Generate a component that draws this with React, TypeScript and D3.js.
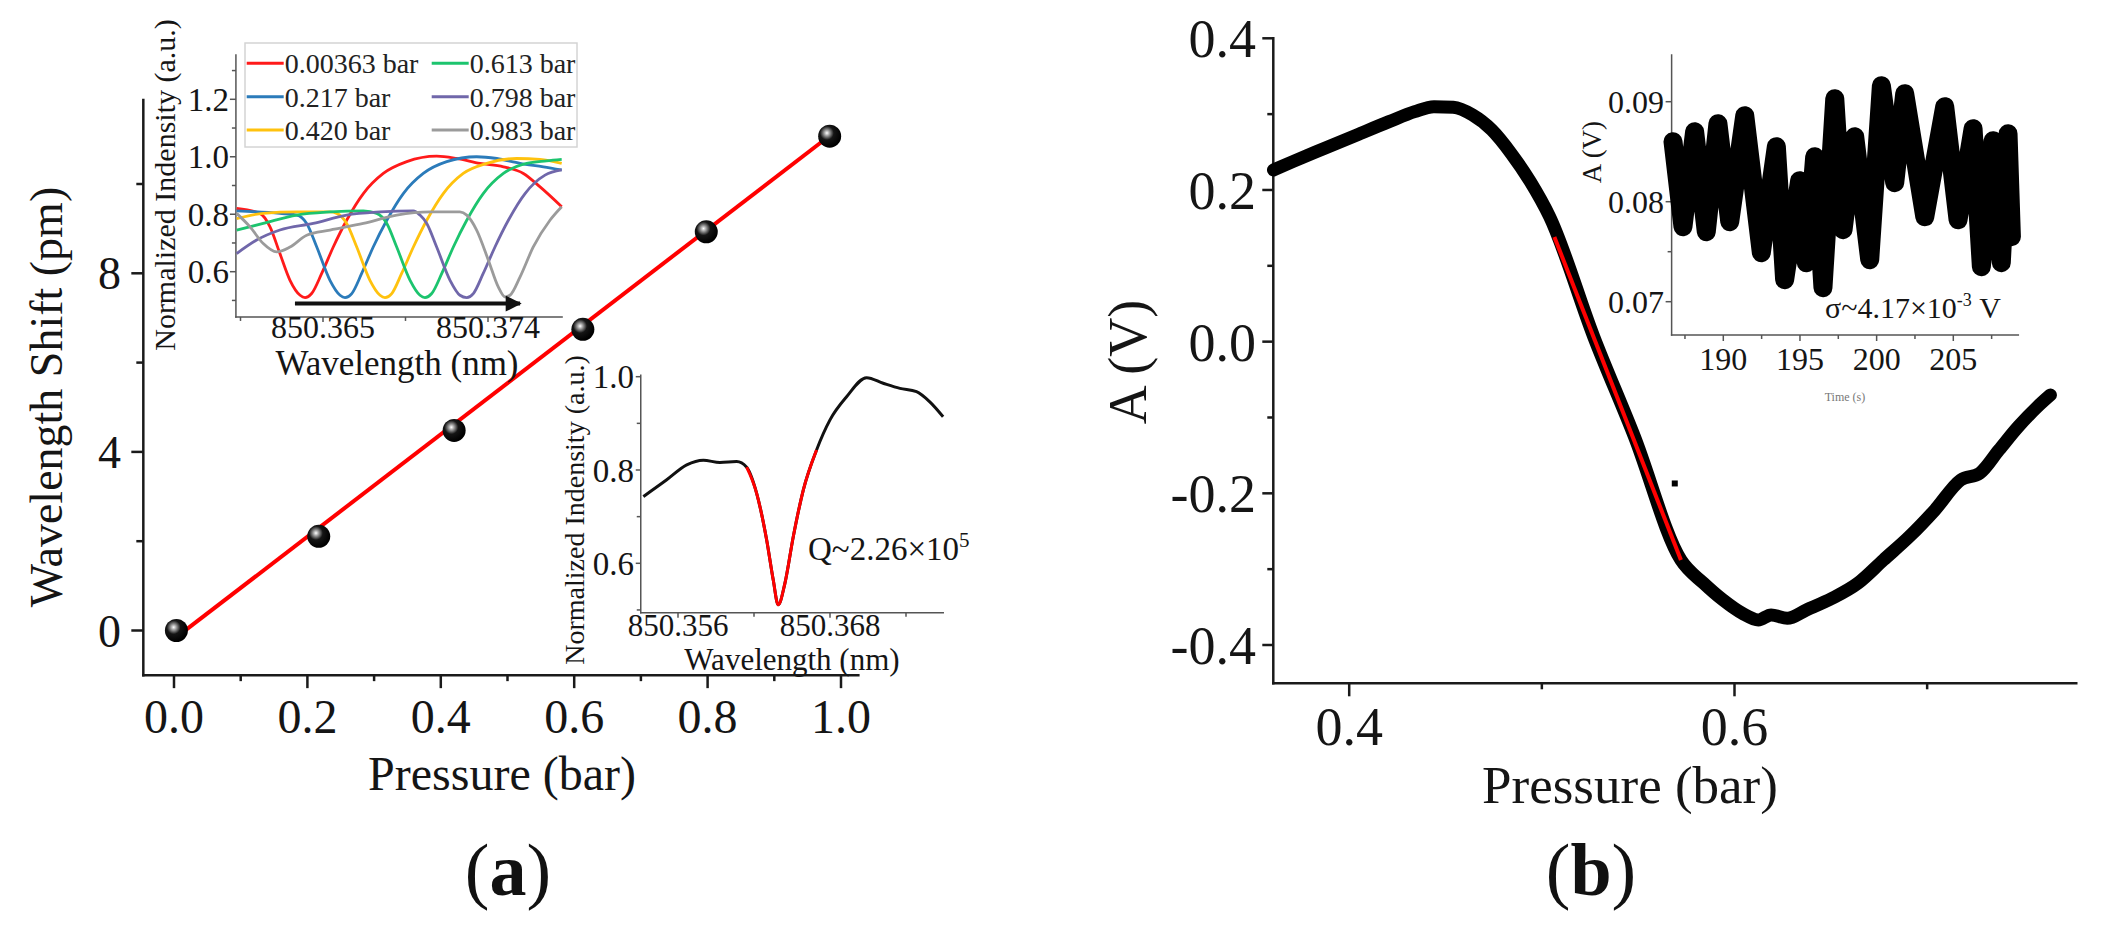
import React from "react";
import * as d3 from "d3";

const FONT = "'Liberation Serif','Times New Roman',Times,serif";

// ---------------- Panel (a) main: wavelength shift vs pressure ----------------
const pressureBar = [0.00363, 0.217, 0.42, 0.613, 0.798, 0.983];
const wavelengthShiftPm = [0.0, 2.11, 4.48, 6.745, 8.93, 11.07];
const fitPressure = [0.00363, 0.983];
const fitShift = [-0.15, 11.08];
const aXTicks = [0, 0.2, 0.4, 0.6, 0.8, 1.0];
const aXTickLabels = ["0.0", "0.2", "0.4", "0.6", "0.8", "1.0"];
const aXMinor = [0.1, 0.3, 0.5, 0.7, 0.9];
const aYTicks = [0, 4, 8];
const aYTickLabels = ["0", "4", "8"];
const aYMinor = [2, 6, 10];

// ---------------- Panel (a) inset 1: spectra at several pressures ----------------
const legendLabels = ["0.00363 bar", "0.217 bar", "0.420 bar", "0.613 bar", "0.798 bar", "0.983 bar"];
const seriesColors = ["#ff1a1a", "#2b7bba", "#ffc20e", "#1cc46e", "#7067aa", "#9b9b9b"];
const spec000363 = [
  [850.36029, 0.82], [850.36156, 0.803], [850.36211, 0.756], [850.36265, 0.663], [850.3632, 0.57],
  [850.36375, 0.518], [850.36402, 0.51], [850.36438, 0.524], [850.36493, 0.594], [850.36556, 0.686],
  [850.36629, 0.779], [850.3672, 0.872], [850.36829, 0.942], [850.36957, 0.983], [850.3712, 1.002],
  [850.37229, 0.994], [850.37356, 0.977], [850.37484, 0.965], [850.37593, 0.942], [850.37684, 0.895],
  [850.37802, 0.826],
];
const spec0217 = [
  [850.36029, 0.812], [850.36265, 0.803], [850.36357, 0.797], [850.36411, 0.768], [850.36466, 0.686],
  [850.36538, 0.57], [850.36593, 0.518], [850.3662, 0.51], [850.36657, 0.524], [850.36711, 0.594],
  [850.36774, 0.686], [850.36848, 0.779], [850.36938, 0.872], [850.37047, 0.942], [850.37175, 0.983],
  [850.37338, 1.0], [850.37448, 0.994], [850.37575, 0.977], [850.37702, 0.965], [850.37802, 0.954],
];
const spec0420 = [
  [850.36029, 0.785], [850.36174, 0.803], [850.36357, 0.808], [850.36538, 0.808], [850.36575, 0.803],
  [850.36629, 0.768], [850.36684, 0.686], [850.36756, 0.57], [850.36811, 0.518], [850.36838, 0.51],
  [850.36875, 0.524], [850.36929, 0.594], [850.36993, 0.686], [850.37066, 0.779], [850.37156, 0.872],
  [850.37265, 0.942], [850.37393, 0.977], [850.37557, 0.994], [850.37684, 0.991], [850.37802, 0.977],
];
const spec0613 = [
  [850.36029, 0.745], [850.36174, 0.768], [850.36357, 0.797], [850.36538, 0.808], [850.3672, 0.812],
  [850.36793, 0.803], [850.36848, 0.768], [850.36902, 0.686], [850.36975, 0.57], [850.37029, 0.518],
  [850.37056, 0.51], [850.37093, 0.524], [850.37148, 0.594], [850.37211, 0.686], [850.37284, 0.779],
  [850.37374, 0.872], [850.37484, 0.942], [850.37611, 0.977], [850.3772, 0.986], [850.37802, 0.991],
];
const spec0798 = [
  [850.36029, 0.663], [850.36138, 0.71], [850.36265, 0.745], [850.36447, 0.768], [850.36629, 0.797],
  [850.36811, 0.808], [850.36993, 0.812], [850.37029, 0.797], [850.37066, 0.768], [850.3712, 0.686],
  [850.37193, 0.57], [850.37247, 0.518], [850.37284, 0.51], [850.3732, 0.524], [850.37374, 0.594],
  [850.37438, 0.686], [850.37511, 0.779], [850.37602, 0.872], [850.37711, 0.936], [850.37802, 0.954],
];
const spec0983 = [
  [850.36029, 0.803], [850.36102, 0.756], [850.36174, 0.698], [850.36247, 0.669], [850.3632, 0.686],
  [850.36411, 0.727], [850.36538, 0.745], [850.3672, 0.768], [850.36902, 0.797], [850.37084, 0.808],
  [850.37247, 0.808], [850.37284, 0.797], [850.37338, 0.745], [850.37402, 0.64], [850.37456, 0.547],
  [850.37493, 0.512], [850.3752, 0.518], [850.37575, 0.582], [850.37647, 0.686], [850.37738, 0.779],
  [850.37802, 0.826],
];
const inset1Series = [spec000363, spec0217, spec0420, spec0613, spec0798, spec0983];
const shiftArrow = [[850.36347, 0.489], [850.37575, 0.489]];
const i1XTicks = [850.365, 850.374];
const i1XTickLabels = ["850.365", "850.374"];
const i1XMinor = [850.3605, 850.3695];
const i1YTicks = [0.6, 0.8, 1.0, 1.2];
const i1YTickLabels = ["0.6", "0.8", "1.0", "1.2"];
const i1YMinor = [0.5, 0.7, 0.9, 1.1, 1.3];

// ---------------- Panel (a) inset 2: single resonance with Lorentz fit ----------------
const resonance = [
  [850.35326, 0.743], [850.35511, 0.779], [850.35669, 0.811], [850.358, 0.821], [850.35931, 0.816],
  [850.36063, 0.818], [850.36142, 0.806], [850.36221, 0.75], [850.363, 0.65], [850.36352, 0.564],
  [850.36391, 0.511], [850.36444, 0.557], [850.3651, 0.657], [850.36589, 0.757], [850.36694, 0.843],
  [850.36799, 0.907], [850.36931, 0.957], [850.37089, 0.998], [850.3722, 0.986], [850.37352, 0.975],
  [850.37483, 0.968], [850.37588, 0.946], [850.37693, 0.914],
];
const resonanceFit = [
  [850.36142, 0.806], [850.36221, 0.75], [850.363, 0.65], [850.36352, 0.564], [850.36391, 0.511],
  [850.36444, 0.557], [850.3651, 0.657], [850.36589, 0.757], [850.36694, 0.843],
];
const i2XTicks = [850.356, 850.368];
const i2XTickLabels = ["850.356", "850.368"];
const i2XMinor = [850.362, 850.374];
const i2YTicks = [0.6, 0.8, 1.0];
const i2YTickLabels = ["0.6", "0.8", "1.0"];
const i2YMinor = [0.5, 0.7, 0.9];

// ---------------- Panel (b): amplitude vs pressure ----------------
const bPressure = [
  0.3607, 0.3707, 0.3873, 0.404, 0.4207, 0.434, 0.444, 0.454, 0.464, 0.474, 0.484, 0.494, 0.504,
  0.527, 0.548, 0.5722, 0.584, 0.594, 0.604, 0.6124, 0.619, 0.6274, 0.6373, 0.6507, 0.664, 0.6773,
  0.6907, 0.704, 0.7174, 0.7273, 0.7373, 0.7473, 0.7573, 0.764,
];
const bAmplitude = [
  0.2264, 0.2374, 0.255, 0.2726, 0.2901, 0.3033, 0.3099, 0.3091, 0.299, 0.2792, 0.2484, 0.211, 0.165,
  0.006, -0.125, -0.288, -0.3186, -0.3406, -0.3582, -0.367, -0.3604, -0.3648, -0.3538, -0.3384,
  -0.3186, -0.2879, -0.2572, -0.222, -0.1824, -0.1735, -0.1428, -0.1121, -0.0857, -0.0703,
];
const bFitPressure = [0.5065, 0.5722];
const bFitAmplitude = [0.138, -0.288];
const bOutlier = [0.569, -0.187];
const bXTicks = [0.4, 0.6];
const bXTickLabels = ["0.4", "0.6"];
const bXMinor = [0.5, 0.7];
const bYTicks = [-0.4, -0.2, 0.0, 0.2, 0.4];
const bYTickLabels = ["-0.4", "-0.2", "0.0", "0.2", "0.4"];
const bYMinor = [-0.3, -0.1, 0.1, 0.3];

// ---------------- Panel (b) inset: noise over time (alternating crests / troughs) ----------------
const noiseTime = [
  186.72, 187.37, 188.13, 188.89, 189.65, 190.42, 191.4, 192.48, 193.46, 194.0, 194.98, 195.41,
  195.96, 196.5, 197.27, 197.81, 198.57, 199.55, 200.31, 201.18, 201.83, 203.14, 204.44, 205.31,
  206.29, 206.83, 207.59, 208.13, 208.57, 208.79,
];
const noiseAmplitude = [
  0.086, 0.0775, 0.087, 0.077, 0.0878, 0.078, 0.0886, 0.0749, 0.0855, 0.0722, 0.0821, 0.0739,
  0.0845, 0.0714, 0.0903, 0.0772, 0.0865, 0.0742, 0.0916, 0.0819, 0.0908, 0.0785, 0.0895, 0.0782,
  0.0873, 0.0735, 0.0861, 0.0739, 0.0868, 0.0765,
];
const ibXTicks = [190, 195, 200, 205];
const ibXTickLabels = ["190", "195", "200", "205"];
const ibXMinor = [187.5, 192.5, 197.5, 202.5, 207.5];
const ibYTicks = [0.07, 0.08, 0.09];
const ibYTickLabels = ["0.07", "0.08", "0.09"];
const ibYMinor = [0.075, 0.085];

type S = d3.ScaleLinear<number, number>;

function XAxis(p: {
  s: S; y: number; ext: number[]; major: number[]; minor: number[]; labels?: string[];
  majLen: number; minLen: number; fs?: number; base?: number; color: string; sw: number;
}) {
  const { s, y, ext, major, minor, labels, majLen, minLen, fs, base, color, sw } = p;
  return (
    <g>
      <line x1={s(ext[0])} x2={s(ext[1])} y1={y} y2={y} stroke={color} strokeWidth={sw} strokeLinecap="square" />
      {major.map((v, i) => (
        <line key={"M" + i} x1={s(v)} x2={s(v)} y1={y} y2={y + majLen} stroke={color} strokeWidth={sw} />
      ))}
      {minor.map((v, i) => (
        <line key={"m" + i} x1={s(v)} x2={s(v)} y1={y} y2={y + minLen} stroke={color} strokeWidth={sw} />
      ))}
      {labels &&
        major.map((v, i) => (
          <text key={"t" + i} x={s(v)} y={base} textAnchor="middle" fontSize={fs} fontFamily={FONT} fill="#151515">
            {labels[i]}
          </text>
        ))}
    </g>
  );
}

function YAxis(p: {
  s: S; x: number; ext: number[]; major: number[]; minor: number[]; labels?: string[];
  majLen: number; minLen: number; fs?: number; lx?: number; color: string; sw: number;
}) {
  const { s, x, ext, major, minor, labels, majLen, minLen, fs, lx, color, sw } = p;
  return (
    <g>
      <line x1={x} x2={x} y1={s(ext[0])} y2={s(ext[1])} stroke={color} strokeWidth={sw} strokeLinecap="square" />
      {major.map((v, i) => (
        <line key={"M" + i} x1={x - majLen} x2={x} y1={s(v)} y2={s(v)} stroke={color} strokeWidth={sw} />
      ))}
      {minor.map((v, i) => (
        <line key={"m" + i} x1={x - minLen} x2={x} y1={s(v)} y2={s(v)} stroke={color} strokeWidth={sw} />
      ))}
      {labels &&
        major.map((v, i) => (
          <text key={"t" + i} x={lx} y={s(v) + 0.35 * (fs || 0)} textAnchor="end" fontSize={fs} fontFamily={FONT} fill="#151515">
            {labels[i]}
          </text>
        ))}
    </g>
  );
}

export default function App() {
  // scales
  const xA = d3.scaleLinear().domain([0, 1]).range([174, 841]);
  const yA = d3.scaleLinear().domain([0, 8]).range([630.5, 273.3]);
  const xI1 = d3.scaleLinear().domain([850.365, 850.374]).range([323, 488]);
  const yI1 = d3.scaleLinear().domain([0.6, 1.2]).range([271.7, 99.3]);
  const xI2 = d3.scaleLinear().domain([850.356, 850.368]).range([678, 830]);
  const yI2 = d3.scaleLinear().domain([0.6, 0.8]).range([563.3, 470]);
  const xB = d3.scaleLinear().domain([0.4, 0.6]).range([1349.2, 1734.5]);
  const yB = d3.scaleLinear().domain([-0.4, 0.4]).range([645, 38.3]);
  const xIb = d3.scaleLinear().domain([190, 205]).range([1723.3, 1953.3]);
  const yIb = d3.scaleLinear().domain([0.07, 0.09]).range([301.7, 101.7]);

  const gen = (xs: S, ys: S, curve: d3.CurveFactory = d3.curveMonotoneX) =>
    d3.line<number[]>().x((d) => xs(d[0])).y((d) => ys(d[1])).curve(curve);

  const fitA = fitPressure.map((p, i) => [p, fitShift[i]]);
  const bData = bPressure.map((p, i) => [p, bAmplitude[i]]);
  const bFit = bFitPressure.map((p, i) => [p, bFitAmplitude[i]]);
  const noise = noiseTime.map((t, i) => [t, noiseAmplitude[i]]);

  const mainColor = "#1a1a1a";
  const insetColor = "#555";

  // legend layout
  const legendRowY = [63.3, 96.7, 130];
  const legendColX = [246.7, 431.7];

  return (
    <div style={{ position: "absolute", left: 0, top: 0 }}>
      <svg width={2107} height={934} viewBox="0 0 2107 934" style={{ display: "block", background: "#fff" }}>
        <defs>
          <radialGradient id="ball" cx="0.38" cy="0.36" r="0.62">
            <stop offset="0" stopColor="#ffffff" />
            <stop offset="0.2" stopColor="#9a9a9a" />
            <stop offset="0.48" stopColor="#151515" />
            <stop offset="1" stopColor="#000" />
          </radialGradient>
          <marker id="arrowHead" viewBox="0 0 10 10" refX="9" refY="5" markerWidth="5" markerHeight="4" orient="auto" markerUnits="strokeWidth">
            <path d="M0,0 L10,5 L0,10 z" fill="#111" />
          </marker>
        </defs>
        <rect x={0} y={0} width={2107} height={934} fill="#fff" />

        {/* ================= Panel (a) main ================= */}
        <XAxis s={xA} y={yA(-1.0)} ext={[-0.046, 1.026]} major={aXTicks} minor={aXMinor} labels={aXTickLabels}
          majLen={13} minLen={6} fs={48} base={733} color={mainColor} sw={2.5} />
        <YAxis s={yA} x={xA(-0.046)} ext={[-1.0, 11.88]} major={aYTicks} minor={aYMinor} labels={aYTickLabels}
          majLen={12} minLen={7} fs={46} lx={121} color={mainColor} sw={2.5} />
        <text x={502} y={790} textAnchor="middle" fontSize={48} fontFamily={FONT} fill="#151515">Pressure (bar)</text>
        <text transform="translate(62,397) rotate(-90)" textAnchor="middle" fontSize={46} fontFamily={FONT} fill="#151515">
          Wavelength Shift (pm)
        </text>
        <path d={gen(xA, yA, d3.curveLinear)(fitA) || ""} fill="none" stroke="#ff0000" strokeWidth={4} />
        {pressureBar.map((p, i) => (
          <circle key={i} cx={xA(p)} cy={yA(wavelengthShiftPm[i])} r={11.5} fill="url(#ball)" />
        ))}
        <text x={508} y={895} textAnchor="middle" fontSize={74} fontFamily={FONT} fill="#111">
          (<tspan fontWeight="bold">a</tspan>)
        </text>

        {/* ================= Inset 1 ================= */}
        <XAxis s={xI1} y={yI1(0.4425)} ext={[850.36025, 850.37804]} major={i1XTicks} minor={i1XMinor} labels={i1XTickLabels}
          majLen={5} minLen={4} fs={32} base={338} color={insetColor} sw={1.5} />
        <YAxis s={yI1} x={xI1(850.36025)} ext={[0.4425, 1.354]} major={i1YTicks} minor={i1YMinor} labels={i1YTickLabels}
          majLen={6} minLen={4} fs={33} lx={229} color={insetColor} sw={1.5} />
        <text x={397} y={375} textAnchor="middle" fontSize={35} fontFamily={FONT} fill="#151515">Wavelength (nm)</text>
        <text transform="translate(175,185) rotate(-90)" textAnchor="middle" fontSize={30} fontFamily={FONT} fill="#151515">
          Normalized Indensity (a.u.)
        </text>
        {inset1Series.map((s, i) => (
          <path key={i} d={gen(xI1, yI1)(s) || ""} fill="none" stroke={seriesColors[i]} strokeWidth={2.8} />
        ))}
        <path
          d={gen(xI1, yI1, d3.curveLinear)(shiftArrow) || ""}
          fill="none" stroke="#111" strokeWidth={4} markerEnd="url(#arrowHead)"
        />
        {/* legend */}
        <rect x={245} y={43} width={332} height={104} fill="#fff" stroke="#d4d4d4" strokeWidth={1.5} />
        {legendLabels.map((lab, i) => {
          const col = Math.floor(i / 3);
          const row = i % 3;
          const lx = legendColX[col];
          const ly = legendRowY[row];
          return (
            <g key={i}>
              <line x1={lx} x2={lx + 37} y1={ly} y2={ly} stroke={seriesColors[i]} strokeWidth={3} />
              <text x={lx + 38} y={ly + 10} fontSize={28} fontFamily={FONT} fill="#222">{lab}</text>
            </g>
          );
        })}

        {/* ================= Inset 2 ================= */}
        <XAxis s={xI2} y={yI2(0.494)} ext={[850.35306, 850.37694]} major={i2XTicks} minor={i2XMinor} labels={i2XTickLabels}
          majLen={5} minLen={4} fs={31} base={636} color={insetColor} sw={1.5} />
        <YAxis s={yI2} x={xI2(850.35306)} ext={[0.494, 1.003]} major={i2YTicks} minor={i2YMinor} labels={i2YTickLabels}
          majLen={5} minLen={4} fs={33} lx={634} color={insetColor} sw={1.5} />
        <text x={792} y={670} textAnchor="middle" fontSize={31} fontFamily={FONT} fill="#151515">Wavelength (nm)</text>
        <text transform="translate(584,510) rotate(-90)" textAnchor="middle" fontSize={28} fontFamily={FONT} fill="#151515">
          Normalized Indensity (a.u.)
        </text>
        <path d={gen(xI2, yI2)(resonance) || ""} fill="none" stroke="#111" strokeWidth={3} />
        <path d={gen(xI2, yI2)(resonanceFit) || ""} fill="none" stroke="#ff0000" strokeWidth={3} />
        <text x={808} y={560} fontSize={33} fontFamily={FONT} fill="#151515">
          Q~2.26×10<tspan dy={-13} fontSize={21}>5</tspan>
        </text>

        {/* ================= Panel (b) main ================= */}
        <XAxis s={xB} y={yB(-0.4505)} ext={[0.3606, 0.7774]} major={bXTicks} minor={bXMinor} labels={bXTickLabels}
          majLen={13} minLen={6} fs={54} base={745} color={mainColor} sw={2.5} />
        <YAxis s={yB} x={xB(0.3606)} ext={[-0.4505, 0.4]} major={bYTicks} minor={bYMinor} labels={bYTickLabels}
          majLen={11} minLen={6} fs={54} lx={1256} color={mainColor} sw={2.5} />
        <text x={1630} y={803} textAnchor="middle" fontSize={53} fontFamily={FONT} fill="#151515">Pressure (bar)</text>
        <text transform="translate(1146,362) rotate(-90)" textAnchor="middle" fontSize={54} fontFamily={FONT} fill="#151515">
          A (V)
        </text>
        <path d={gen(xB, yB)(bData) || ""} fill="none" stroke="#000" strokeWidth={13} strokeLinecap="round" strokeLinejoin="round" />
        <path d={gen(xB, yB, d3.curveLinear)(bFit) || ""} fill="none" stroke="#ff0000" strokeWidth={4} />
        <rect x={xB(bOutlier[0]) - 3} y={yB(bOutlier[1]) - 3} width={6} height={6} fill="#000" />
        <text x={1591} y={895} textAnchor="middle" fontSize={74} fontFamily={FONT} fill="#111">
          (<tspan fontWeight="bold">b</tspan>)
        </text>

        {/* ================= Panel (b) inset ================= */}
        <XAxis s={xIb} y={yIb(0.06667)} ext={[186.63, 209.24]} major={ibXTicks} minor={ibXMinor} labels={ibXTickLabels}
          majLen={6} minLen={4} fs={32} base={370} color={insetColor} sw={1.5} />
        <YAxis s={yIb} x={xIb(186.63)} ext={[0.06667, 0.09467]} major={ibYTicks} minor={ibYMinor} labels={ibYTickLabels}
          majLen={6} minLen={4} fs={32} lx={1664} color={insetColor} sw={1.5} />
        <text x={1845} y={401} textAnchor="middle" fontSize={12} fontFamily={FONT} fill="#777">Time (s)</text>
        <text transform="translate(1601,152) rotate(-90)" textAnchor="middle" fontSize={27} fontFamily={FONT} fill="#151515">
          A (V)
        </text>
        <path d={gen(xIb, yIb, d3.curveLinear)(noise) || ""} fill="none" stroke="#000" strokeWidth={19} strokeLinejoin="round" strokeLinecap="round" />
        <text x={1825} y={318} fontSize={30} fontFamily={FONT} fill="#151515">
          σ~4.17×10<tspan dy={-12} fontSize={18}>-3</tspan><tspan dy={12}> V</tspan>
        </text>
      </svg>
    </div>
  );
}
